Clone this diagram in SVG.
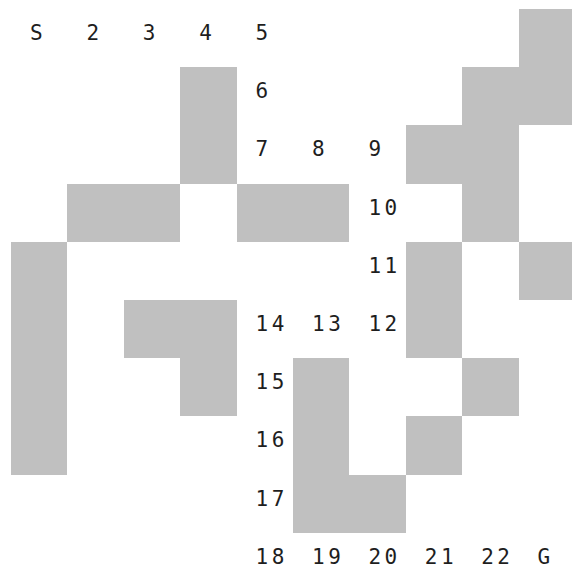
<svg xmlns="http://www.w3.org/2000/svg" width="572" height="569" viewBox="0 0 572 569">
<style>
.wall{fill:#c0c0c0;shape-rendering:crispEdges}
.lbl{font-family:"DejaVu Sans Mono","Liberation Mono",monospace;font-size:21px;letter-spacing:3.5px;fill:#1e1e1e}
</style>
<rect width="572" height="569" fill="#ffffff"/>
<g id="walls">
<rect class="wall" x="518.6" y="9" width="56.4" height="116.4"/>
<rect class="wall" x="462.2" y="67.2" width="56.4" height="174.6"/>
<rect class="wall" x="405.8" y="125.4" width="56.4" height="58.2"/>
<rect class="wall" x="180.2" y="67.2" width="56.4" height="116.4"/>
<rect class="wall" x="67.4" y="183.6" width="112.8" height="58.2"/>
<rect class="wall" x="236.6" y="183.6" width="112.8" height="58.2"/>
<rect class="wall" x="11" y="241.8" width="56.4" height="232.8"/>
<rect class="wall" x="405.8" y="241.8" width="56.4" height="116.4"/>
<rect class="wall" x="518.6" y="241.8" width="56.4" height="58.2"/>
<rect class="wall" x="123.8" y="300" width="112.8" height="58.2"/>
<rect class="wall" x="180.2" y="358.2" width="56.4" height="58.2"/>
<rect class="wall" x="293" y="358.2" width="56.4" height="174.6"/>
<rect class="wall" x="349.4" y="474.6" width="56.4" height="58.2"/>
<rect class="wall" x="462.2" y="358.2" width="56.4" height="58.2"/>
<rect class="wall" x="405.8" y="416.4" width="56.4" height="58.2"/>
</g>
<g id="labels" class="lbl">
<g id="cell-S"><text x="30" y="40">S</text></g>
<g id="cell-2"><text x="86.4" y="40">2</text></g>
<g id="cell-3"><text x="142.8" y="40">3</text></g>
<g id="cell-4"><text x="199.2" y="40">4</text></g>
<g id="cell-5"><text x="255.6" y="40">5</text></g>
<g id="cell-6"><text x="255.6" y="98.2">6</text></g>
<g id="cell-7"><text x="255.6" y="156.4">7</text></g>
<g id="cell-8"><text x="312" y="156.4">8</text></g>
<g id="cell-9"><text x="368.4" y="156.4">9</text></g>
<g id="cell-10"><text x="368.4" y="214.6">10</text></g>
<g id="cell-11"><text x="368.4" y="272.8">11</text></g>
<g id="cell-12"><text x="368.4" y="331">12</text></g>
<g id="cell-13"><text x="312" y="331">13</text></g>
<g id="cell-14"><text x="255.6" y="331">14</text></g>
<g id="cell-15"><text x="255.6" y="389.2">15</text></g>
<g id="cell-16"><text x="255.6" y="447.4">16</text></g>
<g id="cell-17"><text x="255.6" y="505.6">17</text></g>
<g id="cell-18"><text x="255.6" y="563.8">18</text></g>
<g id="cell-19"><text x="312" y="563.8">19</text></g>
<g id="cell-20"><text x="368.4" y="563.8">20</text></g>
<g id="cell-21"><text x="424.8" y="563.8">21</text></g>
<g id="cell-22"><text x="481.2" y="563.8">22</text></g>
<g id="cell-G"><text x="537.6" y="563.8">G</text></g>
</g>
</svg>
